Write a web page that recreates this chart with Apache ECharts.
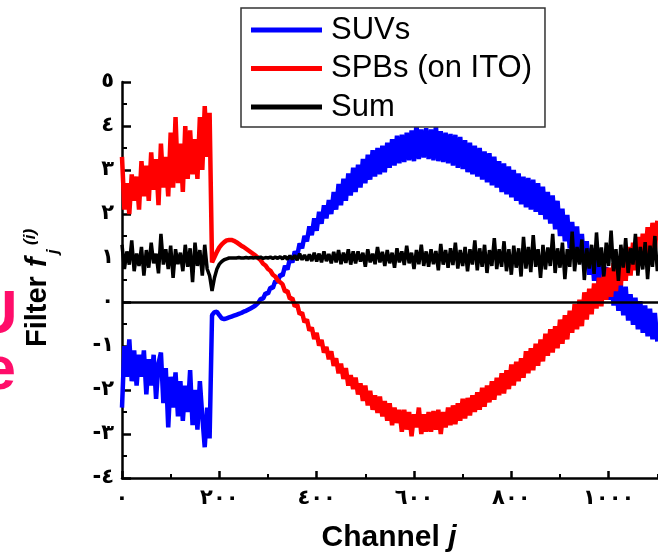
<!DOCTYPE html>
<html>
<head>
<meta charset="utf-8">
<script src="https://cdn.jsdelivr.net/npm/echarts@6/dist/echarts.min.js"></script>
<style>
  html, body { margin: 0; padding: 0; background: #fff; }
  #chart { width: 658px; height: 554px; }
</style>
</head>
<body>
<div id="chart"></div>
<script>
// Filter profiles along the detector channels (one value every 5 channels, starting at channel 0)
const seriesNames = ['SUVs', 'SPBs (on ITO)', 'Sum'];
const channelStep = 5;

const suvValues = [
  -2.40, -1.00, -1.70, -0.85, -1.80, -1.10, -1.90, -1.20, -1.70, -1.10,
  -2.10, -1.30, -1.90, -1.20, -2.20, -1.40, -1.15, -2.30, -1.50, -2.85,
  -1.70, -2.40, -1.60, -2.60, -1.80, -2.70, -1.90, -2.50, -1.55, -2.80,
  -2.00, -2.90, -1.80, -2.60, -3.30, -2.40,
  -3.10, -0.30, -0.23, -0.22, -0.30, -0.37, -0.39, -0.37, -0.35, -0.33,
  -0.31, -0.29, -0.27, -0.25, -0.22, -0.20, -0.17, -0.14, -0.11, -0.07,
  -0.02, 0.07, 0.08, 0.20, 0.19, 0.33, 0.32, 0.48, 0.46, 0.62,
  0.60, 0.82, 0.74, 0.99, 0.90, 1.15, 1.05, 1.33, 1.22, 1.50,
  1.38, 1.72, 1.52, 1.90, 1.62, 2.05, 1.78, 2.20, 1.90, 2.32,
  2.00, 2.50, 2.10, 2.68, 2.20, 2.80, 2.30, 2.92, 2.42, 3.05,
  2.50, 3.12, 2.60, 3.25, 2.70, 3.35, 2.78, 3.45, 2.85, 3.50,
  2.90, 3.55, 2.95, 3.62, 3.05, 3.70, 3.10, 3.78, 3.15, 3.80,
  3.18, 3.85, 3.22, 3.90, 3.20, 4.05, 3.25, 3.92, 3.28, 3.95,
  3.25, 3.92, 3.22, 4.00, 3.20, 3.88, 3.18, 3.85, 3.15, 3.82,
  3.10, 3.80, 3.05, 3.75, 3.02, 3.68, 2.95, 3.62, 2.90, 3.55,
  2.85, 3.50, 2.78, 3.42, 2.72, 3.38, 2.65, 3.30, 2.60, 3.20,
  2.50, 3.15, 2.45, 3.08, 2.38, 3.00, 2.30, 2.92, 2.22, 2.85,
  2.15, 2.82, 2.10, 2.78, 2.05, 2.70, 1.98, 2.62, 1.88, 2.50,
  1.78, 2.42, 1.65, 2.30, 1.50, 2.12, 1.38, 1.98, 1.22, 1.82,
  1.08, 1.72, 0.92, 1.55, 0.78, 1.38, 0.62, 1.22, 0.48, 1.05,
  0.32, 0.98, 0.20, 0.80, 0.05, 0.65, -0.08, 0.52, -0.20, 0.40,
  -0.30, 0.35, -0.42, 0.18, -0.52, 0.10, -0.62, 0.02, -0.70, -0.08,
  -0.78, -0.15, -0.85, -0.25, -0.90
];

const spbValues = [
  3.30, 2.10, 2.70, 2.00, 2.90, 2.30, 2.85, 2.10, 3.20, 2.40,
  3.10, 2.30, 3.40, 2.55, 3.25, 2.20, 3.60, 2.60, 3.30, 2.40,
  3.85, 2.60, 4.20, 2.70, 3.60, 2.50, 4.00, 2.80, 3.90, 2.90,
  3.70, 2.80, 4.20, 3.00, 4.45, 3.30,
  4.30, 0.90, 1.02, 1.14, 1.24, 1.31, 1.36, 1.40, 1.41, 1.41,
  1.39, 1.36, 1.32, 1.28, 1.25, 1.21, 1.17, 1.13, 1.09, 1.05,
  1.00, 0.95, 0.87, 0.83, 0.75, 0.71, 0.62, 0.58, 0.49, 0.45,
  0.40, 0.24, 0.25, 0.07, 0.09, -0.10, -0.06, -0.28, -0.24, -0.46,
  -0.40, -0.65, -0.58, -0.84, -0.70, -0.99, -0.86, -1.15, -1.02, -1.30,
  -1.12, -1.45, -1.28, -1.62, -1.40, -1.75, -1.50, -1.90, -1.66, -1.98,
  -1.72, -2.10, -1.85, -2.25, -1.90, -2.35, -2.02, -2.45, -2.12, -2.52,
  -2.15, -2.60, -2.25, -2.70, -2.30, -2.80, -2.40, -2.75, -2.45, -2.95,
  -2.45, -2.90, -2.50, -3.05, -2.55, -2.85, -2.40, -3.00, -2.55, -2.95,
  -2.50, -2.95, -2.48, -2.90, -2.45, -3.00, -2.50, -2.85, -2.40, -2.80,
  -2.35, -2.78, -2.30, -2.70, -2.20, -2.65, -2.18, -2.58, -2.12, -2.50,
  -2.05, -2.45, -1.95, -2.38, -1.90, -2.28, -1.80, -2.22, -1.72, -2.12,
  -1.62, -2.08, -1.55, -1.98, -1.42, -1.90, -1.36, -1.80, -1.28, -1.72,
  -1.12, -1.62, -1.05, -1.55, -0.95, -1.45, -0.85, -1.35, -0.72, -1.22,
  -0.62, -1.15, -0.55, -1.05, -0.40, -0.95, -0.30, -0.85, -0.20, -0.70,
  -0.05, -0.62, 0.05, -0.55, 0.22, -0.40, 0.30, -0.28, 0.42, -0.15,
  0.55, -0.10, 0.62, 0.05, 0.78, 0.12, 0.88, 0.25, 1.00, 0.38,
  1.10, 0.48, 1.25, 0.60, 1.35, 0.72, 1.48, 0.85, 1.55, 0.98,
  1.70, 1.05, 1.80, 1.20, 1.85
];

const sumValues = [
  1.30, 0.75, 1.15, 0.85, 1.40, 0.70, 1.10, 0.82, 1.25, 0.60,
  1.18, 0.78, 1.35, 0.88, 1.10, 0.65, 1.55, 0.85, 1.20, 0.75,
  1.28, 0.55, 1.20, 0.86, 1.12, 0.70, 1.30, 0.80, 1.22, 0.45,
  1.35, 0.82, 1.18, 0.60, 1.30, 0.75,
  0.60, 0.25, 0.55, 0.75, 0.86, 0.92, 0.96, 0.98, 1.00, 1.00,
  1.00, 1.00, 1.01, 1.00, 1.00, 1.01, 1.00, 1.01, 1.00, 1.01,
  1.00, 1.02, 0.99, 1.01, 1.00, 1.02, 0.99, 1.02, 0.99, 1.03,
  0.98, 1.04, 0.97, 1.05, 0.97, 1.06, 0.95, 1.10, 0.96, 1.07,
  0.94, 1.08, 0.93, 1.12, 0.92, 1.10, 0.90, 1.15, 0.93, 1.09,
  0.88, 1.14, 0.90, 1.18, 0.86, 1.12, 0.89, 1.20, 0.85, 1.15,
  0.88, 1.15, 0.92, 1.12, 0.80, 1.20, 0.90, 1.10, 0.86, 1.25,
  0.90, 1.14, 0.82, 1.18, 0.88, 1.12, 0.78, 1.22, 0.90, 1.15,
  0.84, 1.28, 0.88, 1.12, 0.75, 1.18, 0.86, 1.30, 0.82, 1.15,
  0.80, 1.20, 0.86, 1.16, 0.72, 1.32, 0.85, 1.18, 0.78, 1.22,
  0.84, 1.35, 0.76, 1.18, 0.82, 1.25, 0.70, 1.20, 0.85, 1.40,
  0.72, 1.22, 0.80, 1.30, 0.66, 1.18, 0.82, 1.45, 0.75, 1.20,
  0.80, 1.38, 0.70, 1.20, 0.62, 1.28, 0.78, 1.22, 0.58, 1.48,
  0.76, 1.25, 0.68, 1.52, 0.80, 1.20, 0.55, 1.30, 0.74, 1.24,
  0.82, 1.55, 0.66, 1.22, 0.78, 1.35, 0.52, 1.20, 0.80, 1.60,
  0.70, 1.25, 0.85, 1.42, 0.50, 1.22, 0.76, 1.30, 0.64, 1.58,
  0.80, 1.24, 0.58, 1.35, 0.82, 1.62, 0.70, 1.20, 0.48, 1.30,
  0.78, 1.45, 0.66, 1.22, 0.85, 1.55, 0.60, 1.25, 0.74, 1.36,
  0.52, 1.28, 0.80, 1.50, 0.70
];

// Tick labels in Arabic-Indic digits
const xTickValues = [0, 200, 400, 600, 800, 1000];
const xTickLabels = ['٠', '٢٠٠', '٤٠٠', '٦٠٠', '٨٠٠', '١٠٠٠'];
const yTickValues = [-4, -3, -2, -1, 0, 1, 2, 3, 4, 5];
const yTickLabels = ['-٤', '-٣', '-٢', '-١', '٠', '١', '٢', '٣', '٤', '٥'];

const seriesColors = ['#0000ff', '#ff0000', '#000000'];
const textFont = '"Liberation Sans", Arial, sans-serif';
const tickFont = '"DejaVu Sans", sans-serif';

const toPoints = vals => vals.map((v, i) => [i * channelStep, v]);
const labelFor = (values, labels) => v => {
  const idx = values.indexOf(Math.round(v));
  return idx >= 0 ? labels[idx] : '';
};

const chart = echarts.init(document.getElementById('chart'), null, { renderer: 'canvas' });

chart.setOption({
  animation: false,
  backgroundColor: '#ffffff',
  // the plot runs past the right edge of the page
  grid: { left: 122, top: 82, width: 584, height: 396, containLabel: false, outerBoundsMode: 'none' },
  legend: {
    orient: 'vertical',
    left: 241,
    top: 8,
    padding: [5, 13, 3, 10],
    itemGap: 4.5,
    itemWidth: 71,
    itemHeight: 5,
    icon: 'rect',
    backgroundColor: '#ffffff',
    borderColor: '#333333',
    borderWidth: 1.5,
    borderRadius: 0,
    selectedMode: false,
    textStyle: { fontFamily: textFont, fontSize: 31, color: '#000', lineHeight: 34, padding: [0, 0, 0, 4] },
    data: seriesNames
  },
  xAxis: {
    type: 'value',
    min: 0,
    max: 1200,
    interval: 200,
    axisLine: { show: true, onZero: false, lineStyle: { color: '#000', width: 2.5 } },
    axisTick: { show: true, inside: true, length: 7, lineStyle: { color: '#000', width: 2.5 } },
    minorTick: { show: true, splitNumber: 2, length: 4, lineStyle: { color: '#000', width: 2 } },
    splitLine: { show: false },
    axisLabel: {
      margin: 10,
      fontFamily: tickFont,
      fontWeight: 'bold',
      fontSize: 21,
      color: '#000',
      formatter: labelFor(xTickValues, xTickLabels)
    }
  },
  yAxis: {
    type: 'value',
    min: -4,
    max: 5,
    interval: 1,
    axisLine: { show: true, onZero: false, lineStyle: { color: '#000', width: 2.5 } },
    axisTick: { show: true, inside: true, length: 9, lineStyle: { color: '#000', width: 2.5 } },
    minorTick: { show: true, splitNumber: 2, length: 5, lineStyle: { color: '#000', width: 2 } },
    splitLine: { show: false },
    axisLabel: {
      margin: 8,
      fontFamily: tickFont,
      fontWeight: 'bold',
      fontSize: 21,
      color: '#000',
      formatter: labelFor(yTickValues, yTickLabels)
    }
  },
  series: [
    {
      name: seriesNames[0],
      type: 'line',
      data: toPoints(suvValues),
      symbol: 'none',
      showSymbol: false,
      silent: true,
      color: seriesColors[0],
      lineStyle: { color: seriesColors[0], width: 4.5 },
      markLine: {
        silent: true,
        symbol: ['none', 'none'],
        label: { show: false },
        lineStyle: { color: '#000', width: 2.5, type: 'solid' },
        data: [{ yAxis: 0 }]
      }
    },
    {
      name: seriesNames[1],
      type: 'line',
      data: toPoints(spbValues),
      symbol: 'none',
      showSymbol: false,
      silent: true,
      color: seriesColors[1],
      lineStyle: { color: seriesColors[1], width: 4.5 }
    },
    {
      name: seriesNames[2],
      type: 'line',
      data: toPoints(sumValues),
      symbol: 'none',
      showSymbol: false,
      silent: true,
      color: seriesColors[2],
      lineStyle: { color: seriesColors[2], width: 3.5 }
    }
  ],
  graphic: [
    // caption fragments running in from the left edge
    {
      type: 'text', x: 17.5, y: 315.5, silent: true,
      style: { text: 'U', font: 'bold 62px ' + textFont, fill: '#ff0d6a', align: 'right', verticalAlign: 'middle', textAlign: 'right', textVerticalAlign: 'middle' }
    },
    {
      type: 'text', x: 16, y: 371.5, silent: true,
      style: { text: 'e', font: 'bold 62px ' + textFont, fill: '#ff0d6a', align: 'right', verticalAlign: 'middle', textAlign: 'right', textVerticalAlign: 'middle' }
    },
    // y-axis title: Filter f_j^(i)
    {
      type: 'group', x: 48, y: 347, rotation: Math.PI / 2, silent: true,
      children: [
        { type: 'text', x: 0, y: -10, style: { text: 'Filter', font: 'bold 29px ' + textFont, fill: '#000', align: 'left', verticalAlign: 'middle', textAlign: 'left', textVerticalAlign: 'middle' } },
        { type: 'text', x: 80, y: -10, style: { text: 'f', font: 'italic bold 29px ' + textFont, fill: '#000', align: 'left', verticalAlign: 'middle', textAlign: 'left', textVerticalAlign: 'middle' } },
        { type: 'text', x: 93, y: 5, style: { text: 'j', font: 'italic bold 17px ' + textFont, fill: '#000', align: 'left', verticalAlign: 'middle', textAlign: 'left', textVerticalAlign: 'middle' } },
        { type: 'text', x: 102, y: -18, style: { text: '(i)', font: 'italic bold 17px ' + textFont, fill: '#000', align: 'left', verticalAlign: 'middle', textAlign: 'left', textVerticalAlign: 'middle' } }
      ]
    },
    // x-axis title: Channel j
    {
      type: 'text', x: 389, y: 537.5, silent: true,
      style: {
        text: '{a|Channel }{b|j}',
        align: 'center', verticalAlign: 'middle', textAlign: 'center', textVerticalAlign: 'middle',
        rich: {
          a: { fontFamily: textFont, fontWeight: 'bold', fontSize: 30, fill: '#000' },
          b: { fontFamily: textFont, fontWeight: 'bold', fontStyle: 'italic', fontSize: 30, fill: '#000' }
        }
      }
    }
  ]
});
</script>
</body>
</html>
